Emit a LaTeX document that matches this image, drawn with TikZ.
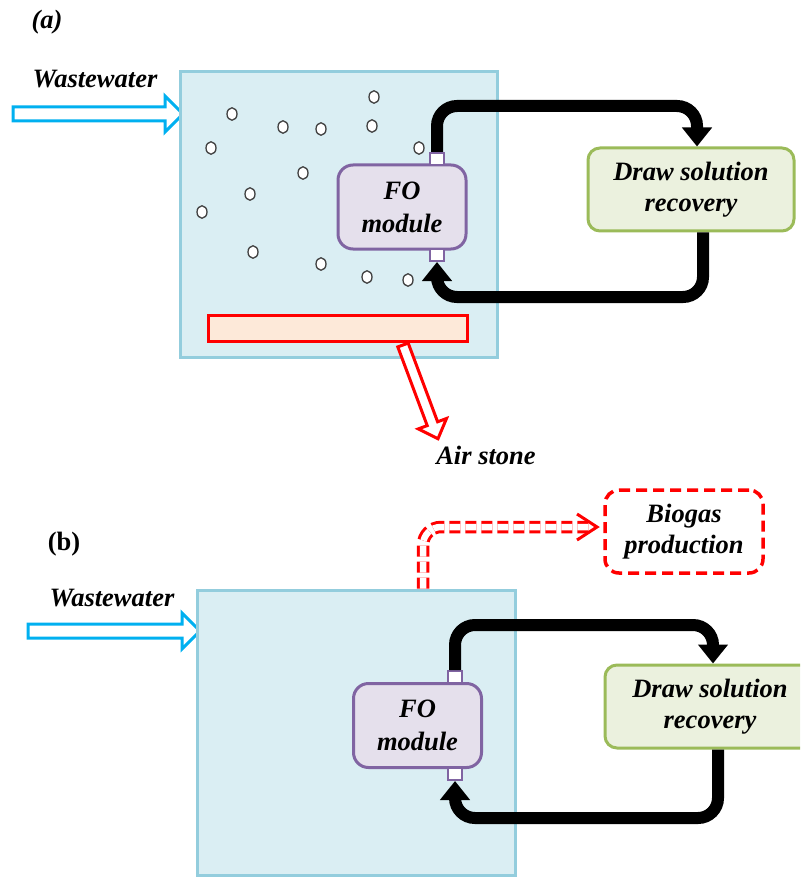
\documentclass[tikz,border=0pt]{standalone}
\usepackage{fontspec}
\setmainfont{Liberation Serif}
\usetikzlibrary{arrows.meta,calc,shapes.geometric}

\definecolor{tankfill}{HTML}{DAEEF3}
\definecolor{tankline}{HTML}{93CDDD}
\definecolor{fofill}{HTML}{E5E0EC}
\definecolor{foline}{HTML}{8064A2}
\definecolor{drfill}{HTML}{EBF1DE}
\definecolor{drline}{HTML}{9BBB59}
\definecolor{stonefill}{HTML}{FDE9D9}
\definecolor{feedblue}{HTML}{00B0F0}
\definecolor{bubline}{HTML}{404040}

\tikzset{
  lbl/.style={font=\fontsize{26.5}{31}\selectfont\bfseries\itshape, inner sep=0pt},
  tank/.style={draw=tankline, fill=tankfill, line width=3pt},
  fobox/.style={draw=foline, fill=fofill, line width=3pt, rounded corners=15pt,
    minimum width=128pt, minimum height=84pt, inner sep=0pt, align=center,
    font=\fontsize{26.5}{33}\selectfont\bfseries\itshape},
  drbox/.style={draw=drline, fill=drfill, line width=3pt, rounded corners=12pt,
    minimum height=83pt, inner sep=0pt, align=center,
    font=\fontsize{26.5}{31}\selectfont\bfseries\itshape},
  port/.style={draw=foline, fill=white, line width=2pt, minimum width=14pt,
    minimum height=12pt, inner sep=0pt},
  bubble/.style={draw=bubline, fill=white, line width=1.3pt, ellipse,
    minimum width=10pt, minimum height=12.5pt, inner sep=0pt},
  pipe/.style={line width=12pt, rounded corners=20pt,
    -{Triangle[width=29pt,length=19pt]}},
  feed/.style={draw=feedblue, fill=white, line width=3pt, line join=miter},
  airarrow/.style={draw=red, fill=white, line width=3pt, line join=miter},
  gasbox/.style={draw=red, fill=white, line width=3.5pt, dash pattern=on 11pt off 6pt,
    rounded corners=14pt, minimum width=158pt, minimum height=83pt, inner sep=0pt,
    align=center, font=\fontsize{26.5}{31}\selectfont\bfseries\itshape},
  gaspipe/.style={draw=red, double=white, double distance=6.5pt, line width=3pt,
    dash pattern=on 11pt off 5pt, rounded corners=18pt},
}

\begin{document}
\begin{tikzpicture}[x=1pt,y=-1pt]
\path[use as bounding box] (0,0) rectangle (800,877);
\clip (0,0) rectangle (800,877);

% ---------------- panel (a): aerated tank ----------------
\node[lbl, anchor=base] (taga) at (47,29) {(a)};
\node[lbl, anchor=base] (wwa) at (95,88) {Wastewater};
\draw[feed] (13,107) -- (165,107) -- (165,96) -- (183,114) -- (165,132)
  -- (165,121) -- (13,121) -- cycle;

\node[tank, minimum width=317pt, minimum height=285pt, inner sep=0pt]
  (tanka) at (338.5,214.5) {};

% air bubbles
\foreach \bx/\by [count=\i] in {232/114, 374/97, 283/127, 321/129, 372/126,
  211/148, 419/148, 303/173, 250/194, 202/212, 253/252, 321/264, 367/277, 408/280}
  \node[bubble] (bub\i) at (\bx,\by) {};

% air stone and its label arrow
\node[draw=red, fill=stonefill, line width=3pt, minimum width=259pt,
  minimum height=26pt, inner sep=0pt] (stone) at (338,328.5) {};
\draw[airarrow] (408.2,343.1) -- (437.6,421.8) -- (446.5,418.5) -- (438,438.7)
  -- (418.3,428.9) -- (427.2,425.6) -- (397.8,346.9) -- cycle;
\node[lbl, anchor=base] (airlbl) at (486,464) {Air stone};

% FO module with draw solution loop
\node[fobox] (foa) at (402,207) {FO\\module};
\node[port] (pta) at (437,159) {};
\node[port] (pba) at (437,255) {};
\node[drbox, minimum width=206pt] (dra) at (691,189.5) {Draw solution\\recovery};
\draw[pipe] (pta.north) |- (697,106) -- (697,0 |- dra.north);
\draw[pipe] (703,0 |- dra.south) |- (437,297) -- (pba.south);

% ---------------- panel (b): anaerobic tank ----------------
\node[font=\fontsize{26.5}{31}\selectfont\bfseries, inner sep=0pt, anchor=base]
  (tagb) at (64,550) {(b)};
\node[lbl, anchor=base] (wwb) at (112,606) {Wastewater};
\draw[feed] (28,624) -- (182,624) -- (182,613) -- (200,631) -- (182,649)
  -- (182,638) -- (28,638) -- cycle;

\node[tank, minimum width=318pt, minimum height=285pt, inner sep=0pt]
  (tankb) at (356,732.5) {};

% biogas outlet
\node[gasbox] (gas) at (684,531.5) {Biogas\\production};
\draw[gaspipe] (423,0 |- tankb.north) |- (590,527);
\draw[red, line width=3pt, line join=miter] (577,514) -- (597,527) -- (577,540);

% FO module with draw solution loop
\node[fobox] (fob) at (417.5,725.5) {FO\\module};
\node[port] (ptb) at (455,677) {};
\node[port] (pbb) at (455,774) {};
\node[drbox, minimum width=210pt] (drb) at (710,706.5) {Draw solution\\recovery};
\draw[pipe] (ptb.north) |- (713,625) -- (713,0 |- drb.north);
\draw[pipe] (718,0 |- drb.south) |- (455,818) -- (pbb.south);
\end{tikzpicture}
\end{document}
